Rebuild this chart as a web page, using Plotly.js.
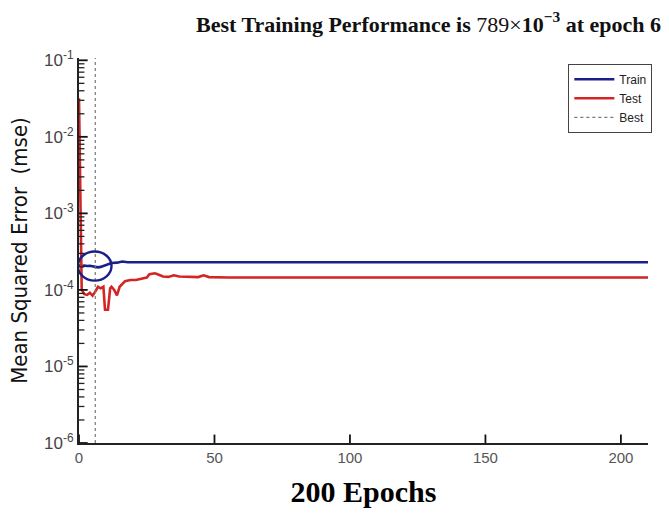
<!DOCTYPE html>
<html>
<head>
<meta charset="utf-8">
<script src="https://cdn.plot.ly/plotly-3.0.1.min.js"></script>
<style>html,body{margin:0;padding:0;background:#fff;}#chart{width:669px;height:529px;}</style>
</head>
<body>
<div id="chart"></div>
<script>
// Train curve (epoch, mse)
const trainEpochs = [0, 1, 2, 3, 4, 5, 6, 7, 8, 9, 10, 11, 12, 14, 16, 18, 20, 25, 30, 40, 60, 100, 150, 210];
const trainMSE    = [2.1e-4, 2.05e-4, 2.08e-4, 2.05e-4, 2.07e-4, 2.03e-4, 2.0e-4, 1.97e-4, 2.0e-4, 2.05e-4, 2.1e-4, 2.2e-4, 2.25e-4, 2.27e-4, 2.35e-4, 2.3e-4, 2.3e-4, 2.3e-4, 2.32e-4, 2.3e-4, 2.3e-4, 2.3e-4, 2.3e-4, 2.3e-4];
// Test curve (epoch, mse)
const testEpochs = [0, 0.5, 1, 2, 3, 4, 5, 6, 7, 8, 9, 9.6, 10.7, 11.5, 12, 13, 14, 15, 16, 17, 19, 21, 23, 25, 26, 28, 29, 31, 33, 35, 37, 40, 44, 46, 48, 55, 80, 120, 160, 210];
const testMSE    = [3.2e-2, 1.0e-3, 1.0e-4, 8.8e-5, 8.6e-5, 9.2e-5, 8.4e-5, 9.5e-5, 1.1e-4, 1.05e-4, 1.1e-4, 5.5e-5, 5.5e-5, 1.05e-4, 1.1e-4, 1.0e-4, 8.5e-5, 1.1e-4, 1.2e-4, 1.3e-4, 1.35e-4, 1.35e-4, 1.4e-4, 1.45e-4, 1.6e-4, 1.65e-4, 1.6e-4, 1.5e-4, 1.48e-4, 1.55e-4, 1.5e-4, 1.48e-4, 1.47e-4, 1.55e-4, 1.47e-4, 1.45e-4, 1.45e-4, 1.45e-4, 1.45e-4, 1.45e-4];
// Best marker
const bestEpoch = 6;
const bestValue = 2.05e-4;
const bestLineY = [1e-6, 0.107];
const xTicks = [0, 50, 100, 150, 200];
const yTicks = [1e-6, 1e-5, 1e-4, 1e-3, 1e-2, 1e-1];
const yTickText = ['10<sup>-6</sup>', '10<sup>-5</sup>', '10<sup>-4</sup>', '10<sup>-3</sup>', '10<sup>-2</sup>', '10<sup>-1</sup>'];

// minor tick positions (2..9 within each decade)
const yMinor = [];
for (let e = -6; e < -1; e++) for (let m = 2; m <= 9; m++) yMinor.push(m * Math.pow(10, e));

const traces = [
  {x: trainEpochs, y: trainMSE, name: 'Train', mode: 'lines', line: {color: '#1a1f8c', width: 2.6}},
  {x: testEpochs, y: testMSE, name: 'Test', mode: 'lines', line: {color: '#d42525', width: 2.6}},
  {x: [bestEpoch, bestEpoch], y: bestLineY, name: 'Best', mode: 'lines', line: {color: '#777', width: 1.2, dash: 'dot'}}
];

const layout = {
  width: 669, height: 529,
  margin: {l: 79, r: 21, t: 58, b: 86},
  paper_bgcolor: '#fff', plot_bgcolor: '#fff',
  showlegend: true,
  title: {
    text: '<b>Best Training Performance is </b>789×<b>10<sup>−3</sup> at epoch 6</b>',
    font: {family: 'Liberation Serif, Times New Roman, serif', size: 22, color: '#111'},
    x: 0.988, xanchor: 'right', xref: 'container', y: 0.955, yanchor: 'middle'
  },
  xaxis: {
    type: 'linear', range: [0, 210], tickmode: 'array',
    tickvals: xTicks, ticktext: xTicks.map(String),
    ticks: '', 
    showline: true, linecolor: '#222', linewidth: 1.5, mirror: false,
    showgrid: false, zeroline: false,
    tickfont: {family: 'Liberation Sans, Arial, sans-serif', size: 15, color: '#555'},
    title: {text: '<b>200 Epochs</b>', font: {family: 'Liberation Serif, Times New Roman, serif', size: 30, color: '#000'}, standoff: 16}
  },
  yaxis: {
    type: 'log', range: [-6, -0.97], tickmode: 'array',
    tickvals: yTicks, ticktext: yTickText,
    ticks: '',
    showline: true, linecolor: '#222', linewidth: 2, mirror: false,
    showgrid: false, zeroline: false,
    tickfont: {family: 'Liberation Sans, Arial, sans-serif', size: 17, color: '#444'},
    title: {text: 'Mean Squared Error  (mse)', font: {family: 'Liberation Sans Narrow, DejaVu Sans Condensed, Arial Narrow, sans-serif', size: 22, color: '#111'}, standoff: 10}
  },
  legend: {
    x: 0.86, y: 0.985, xanchor: 'left', yanchor: 'top',
    bgcolor: '#fff', bordercolor: '#444', borderwidth: 1,
    font: {family: 'Liberation Sans, Arial, sans-serif', size: 12, color: '#222'},
    tracegroupgap: 0, itemwidth: 40
  },
  shapes: [{
    type: 'circle', xref: 'x', yref: 'y',
    x0: bestEpoch - 6.4, x1: bestEpoch + 6,
    y0: bestValue / 1.55, y1: bestValue * 1.55,
    line: {color: '#1a1f8c', width: 2.4}
  }]
};

// y-axis minor ticks as short line segments
yMinor.forEach(v => layout.shapes.push({
  type: 'line', xref: 'x', yref: 'y', x0: 0, x1: 2, y0: v, y1: v,
  line: {color: '#222', width: 1.3}
}));
// y-axis major ticks
yTicks.forEach(v => layout.shapes.push({
  type: 'line', xref: 'x', yref: 'y', x0: 0, x1: 3.2, y0: v, y1: v,
  line: {color: '#111', width: 1.8}
}));
// x-axis major ticks
xTicks.forEach(v => layout.shapes.push({
  type: 'line', xref: 'x', yref: 'y domain', x0: v, x1: v, y0: 0, y1: 0.022,
  line: {color: '#111', width: 1.8}
}));

Plotly.newPlot('chart', traces, layout, {displayModeBar: false});
</script>
</body>
</html>
